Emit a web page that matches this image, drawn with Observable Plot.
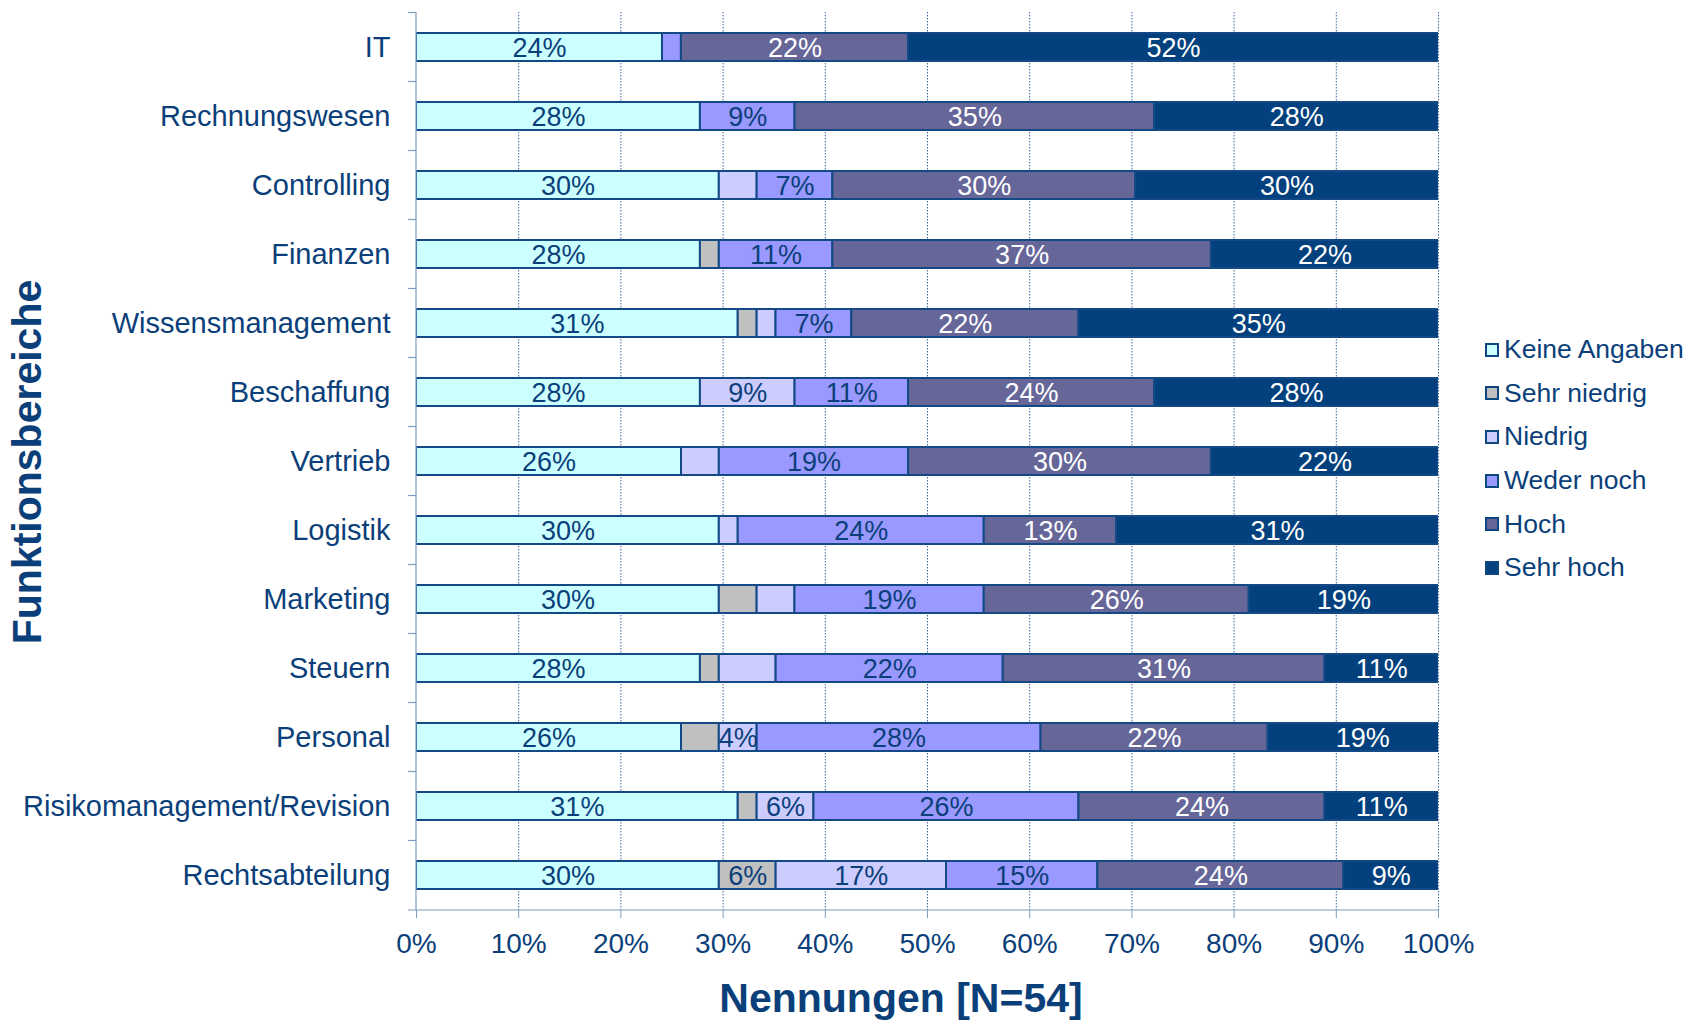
<!DOCTYPE html>
<html>
<head>
<meta charset="utf-8">
<script src="https://cdn.jsdelivr.net/npm/d3@7"></script>
<script src="https://cdn.jsdelivr.net/npm/@observablehq/plot@0.6"></script>
<style>
html, body { margin: 0; padding: 0; background: #fff; overflow: hidden; }
#wrap { position: relative; width: 1689px; height: 1023px; overflow: hidden; font-family: "Liberation Sans", Arial, sans-serif; color: #0b3f7a; }
#chart { position: absolute; left: 0; top: 0; }
#ytitle { position: absolute; left: 27px; top: 462px; transform: translate(-50%, -50%) rotate(-90deg); font-weight: bold; font-size: 41px; line-height: 1; white-space: nowrap; }
#xtitle { position: absolute; left: 901px; top: 978px; transform: translateX(-50%); font-weight: bold; font-size: 41px; line-height: 40px; white-space: nowrap; }
#legend { position: absolute; left: 1485px; top: 328px; }
.item { display: flex; align-items: center; height: 43.6px; font-size: 26.5px; white-space: nowrap; }
.sw { width: 10px; height: 10px; border: 2px solid #0e4680; margin-right: 5px; flex: none; }
</style>
</head>
<body>
<div id="wrap">
  <div id="chart"></div>
  <div id="ytitle">Funktionsbereiche</div>
  <div id="xtitle">Nennungen [N=54]</div>
  <div id="legend"></div>
</div>
<script>
// ---- data (percent of N=54) ----
const categories = ["IT", "Rechnungswesen", "Controlling", "Finanzen", "Wissensmanagement", "Beschaffung", "Vertrieb", "Logistik", "Marketing", "Steuern", "Personal", "Risikomanagement/Revision", "Rechtsabteilung"];
const seriesNames = ["Keine Angaben", "Sehr niedrig", "Niedrig", "Weder noch", "Hoch", "Sehr hoch"];
const keineAngaben = [24.07, 27.78, 29.63, 27.78, 31.48, 27.78, 25.93, 29.63, 29.63, 27.78, 25.93, 31.48, 29.63];
const sehrNiedrig  = [0,     0,     0,     1.85,  1.85,  0,     0,     0,     3.70,  1.85,  3.70,  1.85,  5.56];
const niedrig      = [0,     0,     3.70,  0,     1.85,  9.26,  3.70,  1.85,  3.70,  5.56,  3.70,  5.56,  16.67];
const wederNoch    = [1.85,  9.26,  7.41,  11.11, 7.41,  11.11, 18.52, 24.07, 18.52, 22.22, 27.78, 25.93, 14.81];
const hoch         = [22.22, 35.19, 29.63, 37.04, 22.22, 24.07, 29.63, 12.96, 25.93, 31.48, 22.22, 24.07, 24.07];
const sehrHoch     = [51.85, 27.78, 29.63, 22.22, 35.19, 27.78, 22.22, 31.48, 18.52, 11.11, 18.52, 11.11, 9.26];
const seriesValues = [keineAngaben, sehrNiedrig, niedrig, wederNoch, hoch, sehrHoch];
const seriesColors = ["#ccffff", "#c0c0c0", "#ccccff", "#9999ff", "#666699", "#02417d"];
const darkSeries = ["Hoch", "Sehr hoch"];
// segments whose value labels are hidden / shown despite the size rule
const hiddenLabels = [["Steuern", "Niedrig"]];
const extraLabels = [["Personal", "Niedrig"]];
const xTickValues = [0, 0.1, 0.2, 0.3, 0.4, 0.5, 0.6, 0.7, 0.8, 0.9, 1.0];

// ---- build table ----
const rows = [];
seriesNames.forEach((s, i) => categories.forEach((c, j) => rows.push({category: c, series: s, value: seriesValues[i][j]})));
const has = (list, d) => list.some(([c, s]) => c === d.category && s === d.series);
const showLabel = d => (d.value >= 5 && !has(hiddenLabels, d)) || has(extraLabels, d);
const labelText = d => showLabel(d) ? Math.round(d.value) + "%" : "";

const textColor = "#0b3f7a";
const axisColor = "#7f9cc2";
const stackOpts = {x: d => d.value / 100, y: "category", z: "series", order: seriesNames};

const chart = Plot.plot({
  width: 1689,
  height: 985,
  marginLeft: 416,
  marginRight: 251,
  marginTop: 12,
  marginBottom: 75,
  style: {fontFamily: "'Liberation Sans', Arial, sans-serif", background: "transparent", color: textColor},
  x: {domain: [0, 1], label: null},
  y: {domain: categories, paddingInner: 0.59, paddingOuter: 0.295, label: null},
  color: {domain: seriesNames, range: seriesColors},
  marks: [
    Plot.gridX(xTickValues.slice(1), {stroke: "#3f6ba5", strokeOpacity: 1, strokeWidth: 1, strokeDasharray: "1.5,1.5"}),
    Plot.barX(rows, Plot.stackX({...stackOpts, fill: "series", stroke: "#134a86", strokeWidth: 2, clip: true})),
    Plot.text(rows, Plot.stackX({...stackOpts, text: d => darkSeries.includes(d.series) ? "" : labelText(d), fill: textColor, fontSize: 27, dy: 1})),
    Plot.text(rows, Plot.stackX({...stackOpts, text: d => darkSeries.includes(d.series) ? labelText(d) : "", fill: "white", fontSize: 27, dy: 1})),
    Plot.axisX({ticks: xTickValues, tickFormat: d3.format(".0%"), tickSize: 8, tickPadding: 15, fontSize: 28, stroke: axisColor, fill: textColor, label: null}),
    Plot.axisY({tickSize: 0, tickPadding: 26, fontSize: 29, fill: textColor, label: null})
  ]
});
document.getElementById("chart").appendChild(chart);

// axis lines and category-boundary ticks, derived from the plot's scales
const ys = chart.scale("y"), xs = chart.scale("x");
const [yTop, yBottom] = ys.range;
const xL = xs.apply(0), xR = xs.apply(1);
const step = ys.step ?? (ys.apply(categories[1]) - ys.apply(categories[0]));
const bw = ys.bandwidth ?? step * (1 - ys.paddingInner);
const g = d3.select(chart).append("g").attr("stroke", axisColor).attr("stroke-width", 1.2);
g.append("line").attr("x1", xL).attr("x2", xL).attr("y1", yTop).attr("y2", yBottom);
g.append("line").attr("x1", xL - 8).attr("x2", xR).attr("y1", yBottom).attr("y2", yBottom);
for (let i = 0; i < categories.length; i++) {
  const yy = ys.apply(categories[0]) - (step - bw) / 2 + i * step;
  g.append("line").attr("x1", xL - 8).attr("x2", xL).attr("y1", yy).attr("y2", yy);
}

// legend
const legend = d3.select("#legend");
seriesNames.forEach((s, i) => {
  const item = legend.append("div").attr("class", "item");
  item.append("div").attr("class", "sw").style("background", seriesColors[i]);
  item.append("span").text(s);
});
</script>
</body>
</html>
